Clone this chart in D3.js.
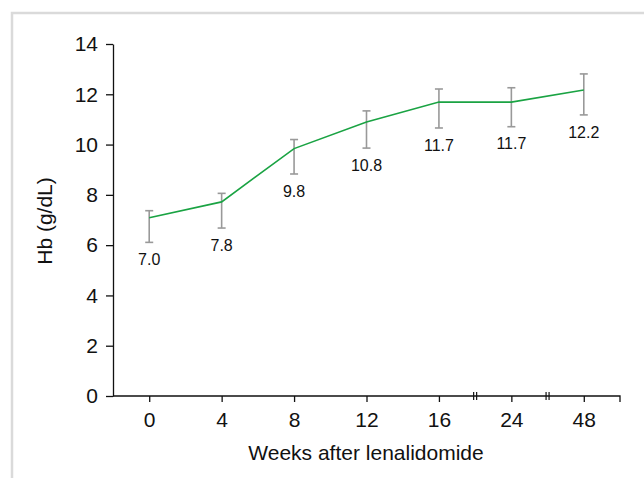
<!DOCTYPE html>
<html>
<head>
<meta charset="utf-8">
<script src="https://cdn.jsdelivr.net/npm/d3@7"></script>
<style>
  body { margin: 0; background: #fff; }
  text { font-family: "Liberation Sans", Arial, sans-serif; fill: #111; }
</style>
</head>
<body>
<svg class="chart" width="644" height="478"></svg>
<script>
// weeks after lenalidomide
var weeks = ["0", "4", "8", "12", "16", "24", "48"]
var hbMean = [7.09, 7.72, 9.84, 10.9, 11.69, 11.69, 12.17]
var hbLow = [6.11, 6.68, 8.83, 9.86, 10.66, 10.71, 11.18]
var hbHigh = [7.37, 8.06, 10.2, 11.34, 12.21, 12.26, 12.81]
var valueLabels = ["7.0", "7.8", "9.8", "10.8", "11.7", "11.7", "12.2"]
var yTicks = [0, 2, 4, 6, 8, 10, 12, 14]

var svg = d3.select(".chart")

// light gray frame
svg.append("path")
  .attr("d", "M12,478 V13 H644")
  .attr("fill", "none")
  .attr("stroke", "#dadada")
  .attr("stroke-width", 2.5)

var plot = {left: 113, right: 620, top: 44, bottom: 396}

var x = d3.scalePoint().domain(weeks).range([plot.left, plot.right]).padding(0.5)
var y = d3.scaleLinear().domain([0, 14]).range([plot.bottom, plot.top])

var data = weeks.map(function(w, i) {
  return {w: w, mean: hbMean[i], lo: hbLow[i], hi: hbHigh[i], label: valueLabels[i]}
})

// axes
var yAxis = svg.append("g")
  .attr("transform", "translate(" + plot.left + ",0)")
  .call(d3.axisLeft(y).tickValues(yTicks).tickSize(7).tickPadding(8).tickSizeOuter(0))
yAxis.selectAll("text").style("font-size", "21px")

var xAxis = svg.append("g")
  .attr("transform", "translate(0," + plot.bottom + ")")
  .call(d3.axisBottom(x).tickSize(6).tickPadding(10).tickSizeOuter(0))
xAxis.select(".domain").attr("d", "M" + plot.left + ",0H" + plot.right + "V6")
xAxis.selectAll("text").style("font-size", "21px")
svg.selectAll(".domain, .tick line").attr("stroke", "#111").attr("stroke-width", 1.3)

// axis breaks between 16-24 and 24-48
var breaks = [[weeks[4], weeks[5]], [weeks[5], weeks[6]]]
breaks.forEach(function(b) {
  var mx = (x(b[0]) + x(b[1])) / 2
  ;[-1.5, 1.5].forEach(function(dx) {
    svg.append("line")
      .attr("x1", mx + dx).attr("x2", mx + dx)
      .attr("y1", plot.bottom - 4).attr("y2", plot.bottom + 4)
      .attr("stroke", "#111").attr("stroke-width", 1.2)
  })
})

// error bars
var eb = svg.append("g").attr("stroke", "#999").attr("stroke-width", 1.6)
data.forEach(function(d) {
  var cx = x(d.w)
  eb.append("line").attr("x1", cx).attr("x2", cx).attr("y1", y(d.lo)).attr("y2", y(d.hi))
  eb.append("line").attr("x1", cx - 4).attr("x2", cx + 4).attr("y1", y(d.lo)).attr("y2", y(d.lo))
  eb.append("line").attr("x1", cx - 4).attr("x2", cx + 4).attr("y1", y(d.hi)).attr("y2", y(d.hi))
})

// mean line
svg.append("path")
  .datum(data)
  .attr("fill", "none")
  .attr("stroke", "#1aa343")
  .attr("stroke-width", 1.6)
  .attr("d", d3.line().x(function(d) { return x(d.w) }).y(function(d) { return y(d.mean) }))

// value labels
svg.selectAll(".vlabel")
  .data(data)
  .enter().append("text")
  .attr("class", "vlabel")
  .attr("x", function(d) { return x(d.w) })
  .attr("y", function(d) { return y(d.lo) + 17 })
  .attr("dy", "0.35em")
  .attr("text-anchor", "middle")
  .style("font-size", "16px")
  .text(function(d) { return d.label })

// titles
svg.append("text")
  .attr("x", 366).attr("y", 453)
  .attr("dy", "0.35em")
  .attr("text-anchor", "middle")
  .style("font-size", "21px")
  .text("Weeks after lenalidomide")

svg.append("text")
  .attr("transform", "translate(45,221) rotate(-90)")
  .attr("dy", "0.35em")
  .attr("text-anchor", "middle")
  .style("font-size", "21px")
  .text("Hb (g/dL)")
</script>
</body>
</html>
